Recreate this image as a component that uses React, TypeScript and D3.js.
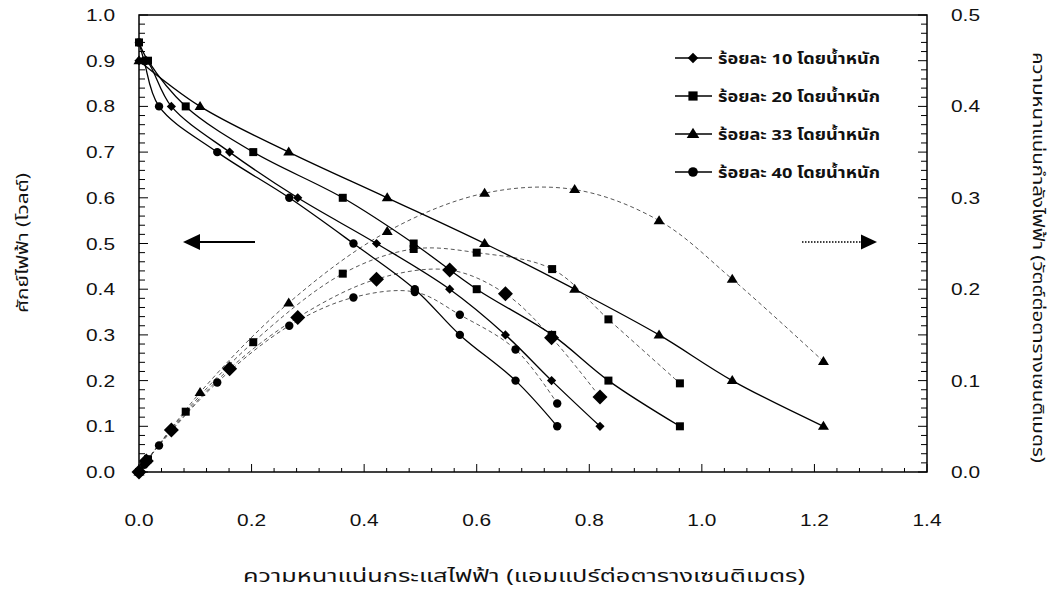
import React from 'react';
import * as d3 from 'd3';

// ---- data ----
const seriesNames = ['ร้อยละ 10 โดยน้ำหนัก', 'ร้อยละ 20 โดยน้ำหนัก', 'ร้อยละ 33 โดยน้ำหนัก', 'ร้อยละ 40 โดยน้ำหนัก'];
const markerKinds = ['diamond', 'square', 'triangle', 'circle'];

const current10 = [0, 0.013, 0.0575, 0.161, 0.282, 0.422, 0.552, 0.651, 0.733, 0.819];
const voltage10 = [0.9, 0.9, 0.8, 0.7, 0.6, 0.5, 0.4, 0.3, 0.2, 0.1];
const power10 = [0, 0.012, 0.046, 0.113, 0.169, 0.211, 0.221, 0.195, 0.147, 0.082];

const current20 = [0, 0.016, 0.083, 0.203, 0.362, 0.488, 0.6, 0.734, 0.834, 0.961];
const voltage20 = [0.94, 0.9, 0.8, 0.7, 0.6, 0.5, 0.4, 0.3, 0.2, 0.1];
const power20 = [0, 0.014, 0.066, 0.142, 0.217, 0.244, 0.24, 0.222, 0.167, 0.097];

const current33 = [0, 0.1085, 0.266, 0.441, 0.614, 0.774, 0.924, 1.054, 1.216];
const voltage33 = [0.9, 0.8, 0.7, 0.6, 0.5, 0.4, 0.3, 0.2, 0.1];
const power33 = [0, 0.087, 0.185, 0.263, 0.305, 0.309, 0.275, 0.211, 0.121];

const current40 = [0, 0.009, 0.0356, 0.139, 0.267, 0.381, 0.49, 0.57, 0.669, 0.743];
const voltage40 = [0.94, 0.9, 0.8, 0.7, 0.6, 0.5, 0.4, 0.3, 0.2, 0.1];
const power40 = [0, 0.008, 0.029, 0.098, 0.16, 0.191, 0.197, 0.172, 0.134, 0.075];

const xTickLabels = ['0.0', '0.2', '0.4', '0.6', '0.8', '1.0', '1.2', '1.4'];
const yLeftTickLabels = ['0.0', '0.1', '0.2', '0.3', '0.4', '0.5', '0.6', '0.7', '0.8', '0.9', '1.0'];
const yRightTickLabels = ['0.0', '0.1', '0.2', '0.3', '0.4', '0.5'];

const xTitle = 'ความหนาแน่นกระแสไฟฟ้า (แอมแปร์ต่อตารางเซนติเมตร)';
const yLeftTitle = 'ศักย์ไฟฟ้า (โวลต์)';
const yRightTitle = 'ความหนาแน่นกำลังไฟฟ้า (วัตต์ต่อตารางเซนติเมตร)';

const currents = [current10, current20, current33, current40];
const voltages = [voltage10, voltage20, voltage33, voltage40];
const powers = [power10, power20, power33, power40];

// ---- layout ----
const W = 1062, H = 590;
const L = 139, R = 927, T = 15, B = 472;
const NUM_FONT = "'Liberation Sans', Arial, sans-serif";
const THAI_FONT = "'Noto Sans Thai', 'Noto Sans Thai UI', Tahoma, 'Liberation Sans', sans-serif";

const x = d3.scaleLinear().domain([0, 1.4]).range([L, R]);
const yL = d3.scaleLinear().domain([0, 1]).range([B, T]);
const yR = d3.scaleLinear().domain([0, 0.5]).range([B, T]);

function Marker({ kind, cx, cy, big, scale = 1 }: { kind: string; cx: number; cy: number; big?: boolean; scale?: number }) {
  if (kind === 'diamond') {
    const s = (big ? 7.5 : 4.6) * scale;
    return <path d={`M${cx},${cy - s}L${cx + s},${cy}L${cx},${cy + s}L${cx - s},${cy}Z`} fill="#000" />;
  }
  if (kind === 'square') {
    const s = 4 * scale;
    return <rect x={cx - s} y={cy - s} width={2 * s} height={2 * s} fill="#000" />;
  }
  if (kind === 'triangle') {
    const s = scale;
    return <path d={`M${cx},${cy - 5.5 * s}L${cx + 5.5 * s},${cy + 3.5 * s}L${cx - 5.5 * s},${cy + 3.5 * s}Z`} fill="#000" />;
  }
  return <circle cx={cx} cy={cy} r={4.2 * scale} fill="#000" />;
}

export default function App() {
  const curve = d3.curveCatmullRom.alpha(0.5);
  const vLine = (xs: number[], ys: number[]) =>
    d3.line<number>().x((_, i) => x(xs[i])).y((d) => yL(d)).curve(curve)(ys) || '';
  const pLine = (xs: number[], ys: number[]) =>
    d3.line<number>().x((_, i) => x(xs[i])).y((d) => yR(d)).curve(curve)(ys) || '';

  const xTicks = d3.range(0, 36).map((i) => ({ v: i * 0.04, major: i % 5 === 0 }));
  const yTicks = d3.range(0, 51).map((i) => ({ v: i * 0.02, major: i % 5 === 0 }));
  const xMajor = xTickLabels.map((t) => +t);
  const yLMajor = yLeftTickLabels.map((t) => +t);
  const yRMajor = yRightTickLabels.map((t) => +t);

  const legendY = [58, 96, 134, 172];

  return (
    <svg width={W} height={H} style={{ position: 'absolute', left: 0, top: 0, background: '#fff' }}>
      <rect x={0} y={0} width={W} height={H} fill="#fff" />

      {/* power (dashed) */}
      {powers.map((p, s) => (
        <path key={'pl' + s} d={pLine(currents[s], p)} fill="none" stroke="#444" strokeWidth={0.9} strokeDasharray="4,3" />
      ))}
      {/* voltage (solid) */}
      {voltages.map((v, s) => (
        <path key={'vl' + s} d={vLine(currents[s], v)} fill="none" stroke="#000" strokeWidth={1.3} />
      ))}
      {powers.map((p, s) =>
        p.map((d, i) => (
          <Marker key={'pm' + s + '-' + i} kind={markerKinds[s]} cx={x(currents[s][i])} cy={yR(d)} big={s === 0} />
        ))
      )}
      {voltages.map((v, s) =>
        v.map((d, i) => <Marker key={'vm' + s + '-' + i} kind={markerKinds[s]} cx={x(currents[s][i])} cy={yL(d)} />)
      )}

      {/* frame */}
      <rect x={L} y={T} width={R - L} height={B - T} fill="none" stroke="#000" strokeWidth={1.5} />
      {xTicks.map((t, i) => (
        <line key={'xt' + i} x1={x(t.v)} x2={x(t.v)} y1={B} y2={B - (t.major ? 8 : 4)} stroke="#000" strokeWidth={1} />
      ))}
      {yTicks.map((t, i) => (
        <g key={'yt' + i}>
          <line x1={L} x2={L + (t.major ? 9 : 6)} y1={yL(t.v)} y2={yL(t.v)} stroke="#000" strokeWidth={1} />
          <line x1={R} x2={R - (t.major ? 9 : 6)} y1={yL(t.v)} y2={yL(t.v)} stroke="#000" strokeWidth={1} />
        </g>
      ))}

      {/* tick labels */}
      {xTickLabels.map((t, i) => (
        <text key={'xl' + i} x={x(xMajor[i]) - 14.5} y={526} textLength={29} lengthAdjust="spacingAndGlyphs" fontFamily={NUM_FONT} fontSize={16} fill="#111">
          {t}
        </text>
      ))}
      {yLeftTickLabels.map((t, i) => (
        <text key={'yl' + i} x={86} y={yL(yLMajor[i]) + 6} textLength={29} lengthAdjust="spacingAndGlyphs" fontFamily={NUM_FONT} fontSize={16} fill="#111">
          {t}
        </text>
      ))}
      {yRightTickLabels.map((t, i) => (
        <text key={'yr' + i} x={951} y={yR(yRMajor[i]) + 6} textLength={29} lengthAdjust="spacingAndGlyphs" fontFamily={NUM_FONT} fontSize={16} fill="#111">
          {t}
        </text>
      ))}

      {/* titles */}
      <text x={243} y={582} textLength={562} lengthAdjust="spacingAndGlyphs" fontFamily={THAI_FONT} fontSize={18} fill="#111">
        {xTitle}
      </text>
      <text transform={`translate(28,${313}) rotate(-90)`} textLength={140} lengthAdjust="spacingAndGlyphs" fontFamily={THAI_FONT} fontSize={16} fill="#111">
        {yLeftTitle}
      </text>
      <text transform={`translate(1033,${52}) rotate(90)`} textLength={411} lengthAdjust="spacingAndGlyphs" fontFamily={THAI_FONT} fontSize={16} fill="#111">
        {yRightTitle}
      </text>

      {/* arrows */}
      <line x1={196} x2={255} y1={242} y2={242} stroke="#000" strokeWidth={2} />
      <path d="M183,242L200,234L200,250Z" fill="#000" />
      <line x1={802} x2={862} y1={242} y2={242} stroke="#000" strokeWidth={1.5} strokeDasharray="1.5,1.5" />
      <path d="M877,242L861,234.5L861,249.5Z" fill="#000" />

      {/* legend */}
      {seriesNames.map((n, i) => (
        <g key={'lg' + i}>
          <line x1={675} x2={712} y1={legendY[i]} y2={legendY[i]} stroke="#000" strokeWidth={1.3} />
          <Marker kind={markerKinds[i]} cx={693} cy={legendY[i]} scale={1.15} />
          <text x={718} y={legendY[i] + 6} textLength={162} lengthAdjust="spacingAndGlyphs" fontFamily={THAI_FONT} fontSize={15} fontWeight="bold" fill="#111">
            {n}
          </text>
        </g>
      ))}
    </svg>
  );
}
